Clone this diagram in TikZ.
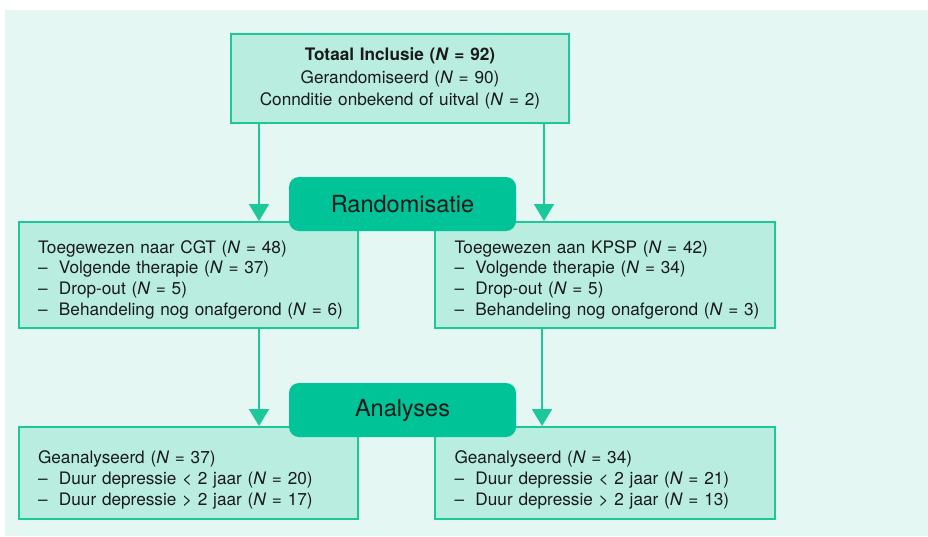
\documentclass[tikz,border=0pt]{standalone}
\usepackage{fontspec}
\setmainfont{TeX Gyre Heros}
\usetikzlibrary{arrows.meta}
\definecolor{bgmint}{HTML}{E5F7F3}
\definecolor{boxfill}{HTML}{B8EDE0}
\definecolor{boxline}{HTML}{1CC89A}
\definecolor{pillgreen}{HTML}{00C397}
\definecolor{inktext}{HTML}{1A1A1A}
\newcommand{\Nit}{\textit{N}}
\newcommand{\itm}{\makebox[21pt][l]{--}}

\begin{document}
\begin{tikzpicture}[x=1pt,y=-1pt,
  infobox/.style={draw=boxline,line width=2pt,fill=boxfill,text=inktext,
    align=left,text width=329pt,inner xsep=5pt,inner ysep=0pt,
    minimum width=339pt,font=\fontsize{17.2}{20.7}\selectfont},
  pill/.style={fill=pillgreen,rounded corners=10pt,minimum width=227pt,
    minimum height=54pt,inner sep=0pt,text=inktext,font=\fontsize{23.5}{26}\selectfont},
  flowarrow/.style={draw=boxline,line width=2pt,-{Triangle[width=20pt,length=17pt]}}]
\useasboundingbox (0,0) rectangle (928,536);
\fill[bgmint] (5,10) rectangle (928,536);

% top
\node[infobox,align=center,text width=328pt,minimum width=338pt,minimum height=89pt,
  font=\fontsize{17.2}{22.5}\selectfont] (top) at (400,78.5)
  {\textbf{Totaal Inclusie (\Nit\ = 92)}\\Gerandomiseerd (\Nit\ = 90)\\Connditie onbekend of uitval (\Nit\ = 2)};

% randomisatie
\node[infobox,minimum height=106pt] (cgt) at (188.5,275)
  {\leftskip=14pt\rule{0pt}{22pt}Toegewezen naar CGT (\Nit\ = 48)\\\itm Volgende therapie (\Nit\ = 37)\\\itm Drop-out (\Nit\ = 5)\\\itm Behandeling nog onafgerond (\Nit\ = 6)\par};
\node[infobox,minimum height=106pt,minimum width=340pt] (kpsp) at (605,275)
  {\leftskip=14pt\rule{0pt}{22pt}Toegewezen aan KPSP (\Nit\ = 42)\\\itm Volgende therapie (\Nit\ = 34)\\\itm Drop-out (\Nit\ = 5)\\\itm Behandeling nog onafgerond (\Nit\ = 3)\par};
\node[pill] (rand) at (402.5,204) {Randomisatie};

% analyses
\node[infobox,minimum height=92pt] (anacgt) at (188.5,473)
  {\leftskip=14pt\rule{0pt}{27pt}Geanalyseerd (\Nit\ = 37)\\\itm Duur depressie < 2 jaar (\Nit\ = 20)\\\itm Duur depressie > 2 jaar (\Nit\ = 17)\par};
\node[infobox,minimum height=92pt,minimum width=340pt] (anakpsp) at (605,473)
  {\leftskip=14pt\rule{0pt}{27pt}Geanalyseerd (\Nit\ = 34)\\\itm Duur depressie < 2 jaar (\Nit\ = 21)\\\itm Duur depressie > 2 jaar (\Nit\ = 13)\par};
\node[pill] (ana) at (402.5,410) {Analyses};

\draw[flowarrow] ([xshift=29pt]top.south west) -- ([xshift=29pt]top.south west |- cgt.north);
\draw[flowarrow] ([xshift=-26pt]top.south east) -- ([xshift=-26pt]top.south east |- kpsp.north);
\draw[flowarrow] ([xshift=241pt]cgt.south west) -- ([xshift=241pt]cgt.south west |- anacgt.north);
\draw[flowarrow] ([xshift=108pt]kpsp.south west) -- ([xshift=108pt]kpsp.south west |- anakpsp.north);
\end{tikzpicture}
\end{document}
